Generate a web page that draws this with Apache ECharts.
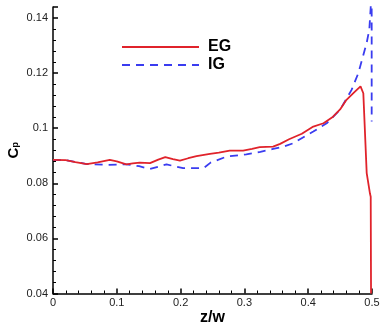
<!DOCTYPE html>
<html>
<head>
<meta charset="utf-8">
<script src="https://cdn.jsdelivr.net/npm/echarts@6/dist/echarts.min.js"></script>
<style>
  html, body { margin: 0; padding: 0; background: #fff; }
  #chart { width: 380px; height: 331px; }
</style>
</head>
<body>
<div id="chart"></div>
<script>
// Pressure coefficient along the span, z/w from the midplane to the wall
const zEG = [0, 0.02, 0.035, 0.053, 0.07, 0.089, 0.10, 0.115, 0.125, 0.136, 0.152,
  0.165, 0.176, 0.188, 0.199, 0.212, 0.225, 0.246, 0.26, 0.277, 0.298, 0.312,
  0.324, 0.345, 0.356, 0.37, 0.39, 0.408, 0.424, 0.439, 0.45, 0.46, 0.472,
  0.482, 0.4864, 0.4917, 0.4969, 0.498, 0.4985];
const cpEG = [0.0885, 0.0884, 0.0877, 0.0870, 0.0876, 0.0885, 0.0880, 0.0869, 0.0872, 0.0875, 0.0873,
  0.0886, 0.0895, 0.0888, 0.0882, 0.0891, 0.0899, 0.0907, 0.0911, 0.0919, 0.0919, 0.0925,
  0.0931, 0.0933, 0.0943, 0.0960, 0.0980, 0.1006, 0.1018, 0.1042, 0.1068, 0.1103, 0.1130,
  0.1152, 0.1127, 0.0837, 0.0762, 0.0751, 0.0400];

const zIG = [0, 0.02, 0.053, 0.084, 0.115, 0.135, 0.152, 0.165, 0.178, 0.19, 0.204,
  0.236, 0.247, 0.272, 0.303, 0.325, 0.345, 0.36, 0.376, 0.408, 0.429, 0.45,
  0.468, 0.4786, 0.4917, 0.4958, 0.498, 0.4988, 0.4995, 0.4995];
const cpIG = [0.0885, 0.0884, 0.0870, 0.0867, 0.0869, 0.0862, 0.0852, 0.0860, 0.0869, 0.0862, 0.0855,
  0.0855, 0.0875, 0.0897, 0.0905, 0.0914, 0.0925, 0.0932, 0.0945, 0.0988, 0.1018, 0.1067,
  0.1139, 0.1200, 0.1310, 0.1358, 0.1440, 0.1500, 0.1440, 0.1024];

const xTicks = [0, 0.1, 0.2, 0.3, 0.4, 0.5];
const yTicks = [0.04, 0.06, 0.08, 0.1, 0.12, 0.14];

const pairs = (xs, ys) => xs.map((x, i) => [x, ys[i]]);
const fmt = v => String(+v.toFixed(3));
const FONT = 'Arial, "Liberation Sans", sans-serif';

const chart = echarts.init(document.getElementById('chart'), null, { renderer: 'canvas' });
chart.setOption({
  animation: false,
  backgroundColor: '#fff',
  grid: { left: 53, right: 8, top: 7, bottom: 37.5, containLabel: false, outerBoundsMode: 'none' },
  legend: {
    orient: 'vertical',
    left: 116,
    top: 34,
    itemWidth: 77,
    itemHeight: 14,
    itemGap: 2,
    itemStyle: { opacity: 0 },
    textStyle: { fontFamily: FONT, fontSize: 16, fontWeight: 'bold', color: '#000', lineHeight: 14, padding: [0, 0, 0, 4] },
    data: ['EG', 'IG']
  },
  xAxis: {
    type: 'value',
    min: xTicks[0],
    max: xTicks[xTicks.length - 1],
    interval: 0.1,
    name: 'z/w',
    nameLocation: 'middle',
    nameGap: 16,
    nameMoveOverlap: false,
    nameTextStyle: { fontFamily: FONT, fontSize: 16, fontWeight: 'bold', color: '#000', verticalAlign: 'top' },
    axisLine: { lineStyle: { color: '#000', width: 1.5 } },
    axisTick: { inside: true, length: 5, lineStyle: { color: '#000', width: 1.5 } },
    minorTick: { show: true, splitNumber: 5, length: 3, lineStyle: { color: '#000', width: 1 } },
    axisLabel: { fontFamily: FONT, fontSize: 11, color: '#222', margin: 4, formatter: fmt },
    splitLine: { show: false }
  },
  yAxis: {
    type: 'value',
    min: yTicks[0],
    max: 0.144,
    interval: 0.02,
    name: '{c|C}{p|p}',
    nameLocation: 'middle',
    nameRotate: 90,
    nameGap: 27,
    nameMoveOverlap: false,
    nameTextStyle: {
      rich: {
        c: { fontFamily: FONT, fontSize: 15, fontWeight: 'bold', color: '#000', padding: [0, 0, 5, 0] },
        p: { fontFamily: FONT, fontSize: 9, fontWeight: 'bold', color: '#000' }
      }
    },
    axisLine: { show: true, lineStyle: { color: '#000', width: 1.5 } },
    axisTick: { show: true, inside: true, length: 5, lineStyle: { color: '#000', width: 1.5 } },
    minorTick: { show: true, splitNumber: 5, length: 3, lineStyle: { color: '#000', width: 1 } },
    axisLabel: { fontFamily: FONT, fontSize: 11, color: '#222', margin: 5, formatter: fmt, showMaxLabel: false },
    splitLine: { show: false }
  },
  series: [
    {
      name: 'EG',
      type: 'line',
      symbol: 'none',
      clip: true,
      data: pairs(zEG, cpEG),
      lineStyle: { color: '#e0232b', width: 1.8 },
      itemStyle: { color: '#e0232b' },
      z: 3
    },
    {
      name: 'IG',
      type: 'line',
      symbol: 'none',
      clip: true,
      data: pairs(zIG, cpIG),
      lineStyle: { color: '#3a3cf0', width: 1.8, type: [8, 6] },
      itemStyle: { color: '#3a3cf0' },
      z: 2
    }
  ]
});
</script>
</body>
</html>
